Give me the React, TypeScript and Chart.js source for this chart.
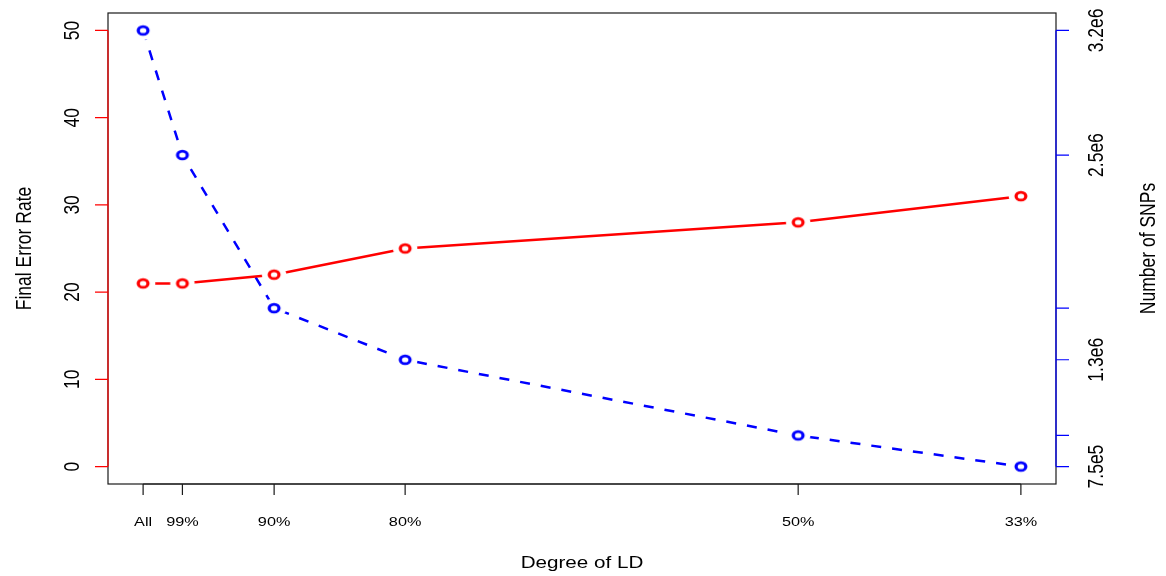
import { useEffect, useRef } from 'react';
import { Chart, registerables } from 'chart.js';

Chart.register(...registerables);

// LD pruning levels shown along the x axis, and where each sits on the numeric axis
const ldLabels = ['All', '99%', '90%', '80%', '50%', '33%'];
const ldPosition = [100, 97, 90, 80, 50, 33];

// Final error rate for each pruning level (left axis)
const errorRate = [21, 21, 22, 25, 28, 31];
const errorTicks = [0, 10, 20, 30, 40, 50];

// Number of SNPs retained at each pruning level (right axis)
const snpCount = [3200000, 2500000, 1640000, 1350000, 925000, 750000];
const snpTickLabels = ['3.2e6', '2.5e6', '', '1.3e6', '', '7.5e5'];

const FONT = '"Liberation Sans", Arial, Helvetica, sans-serif';
const SX = 1.25; // horizontal stretch of glyphs and symbols
const RED = '#ff0000';
const BLUE = '#0000ff';

// R-style 4% range extension
function extend(lo: number, hi: number) {
  const pad = (hi - lo) * 0.04;
  return [lo - pad, hi + pad];
}

function drawText(
  ctx: CanvasRenderingContext2D,
  str: string,
  x: number,
  y: number,
  size: number,
  rotate: boolean,
) {
  ctx.save();
  ctx.translate(x, y);
  ctx.scale(SX, 1);
  if (rotate) ctx.rotate(-Math.PI / 2);
  ctx.font = `${size}px ${FONT}`;
  ctx.textAlign = 'center';
  ctx.textBaseline = 'alphabetic';
  ctx.fillStyle = '#000';
  ctx.fillText(str, 0, 0);
  ctx.restore();
}

// Open circle symbol with a white clearance ring so the line stops short of it
function makeMarker(color: string) {
  const c = document.createElement('canvas');
  c.width = 34;
  c.height = 26;
  const g = c.getContext('2d')!;
  g.translate(17, 13);
  g.scale(SX, 1);
  g.fillStyle = '#ffffff';
  g.beginPath();
  g.arc(0, 0, 9.8, 0, Math.PI * 2);
  g.fill();
  g.strokeStyle = color;
  g.lineWidth = 2.6;
  g.beginPath();
  g.arc(0, 0, 3.9, 0, Math.PI * 2);
  g.stroke();
  return c;
}

const axesPlugin = {
  id: 'rAxes',
  beforeDatasetsDraw(chart: any) {
    const ctx: CanvasRenderingContext2D = chart.ctx;
    const ca = chart.chartArea;
    const xs = chart.scales.x;
    const yl = chart.scales.yErr;
    const yr = chart.scales.ySnp;
    ctx.save();
    ctx.lineCap = 'butt';

    // frame
    ctx.strokeStyle = '#1a1a1a';
    ctx.lineWidth = 1.2;
    ctx.strokeRect(ca.left, ca.top, ca.right - ca.left, ca.bottom - ca.top);

    // bottom axis
    const xFirst = xs.getPixelForValue(ldPosition[0]);
    const xLast = xs.getPixelForValue(ldPosition[ldPosition.length - 1]);
    ctx.beginPath();
    ctx.moveTo(xFirst, ca.bottom);
    ctx.lineTo(xLast, ca.bottom);
    ldPosition.forEach((v) => {
      const px = xs.getPixelForValue(v);
      ctx.moveTo(px, ca.bottom);
      ctx.lineTo(px, ca.bottom + 11);
    });
    ctx.stroke();
    ldPosition.forEach((v, i) => {
      drawText(ctx, ldLabels[i], xs.getPixelForValue(v), 526, 13, false);
    });

    // left axis (error rate)
    ctx.strokeStyle = RED;
    ctx.beginPath();
    ctx.moveTo(ca.left, yl.getPixelForValue(errorTicks[0]));
    ctx.lineTo(ca.left, yl.getPixelForValue(errorTicks[errorTicks.length - 1]));
    errorTicks.forEach((v) => {
      const py = yl.getPixelForValue(v);
      ctx.moveTo(ca.left, py);
      ctx.lineTo(ca.left - 13, py);
    });
    ctx.stroke();
    errorTicks.forEach((v) => {
      drawText(ctx, String(v), ca.left - 29, yl.getPixelForValue(v), 17.5, true);
    });

    // right axis (SNP count)
    const sMax = Math.max(...snpCount);
    const sMin = Math.min(...snpCount);
    ctx.strokeStyle = BLUE;
    ctx.beginPath();
    ctx.moveTo(ca.right, yr.getPixelForValue(sMax));
    ctx.lineTo(ca.right, yr.getPixelForValue(sMin));
    snpCount.forEach((v) => {
      const py = yr.getPixelForValue(v);
      ctx.moveTo(ca.right, py);
      ctx.lineTo(ca.right + 13, py);
    });
    ctx.stroke();
    snpCount.forEach((v, i) => {
      if (snpTickLabels[i]) {
        drawText(ctx, snpTickLabels[i], ca.right + 47, yr.getPixelForValue(v), 17.5, true);
      }
    });

    // axis titles
    const midY = (ca.top + ca.bottom) / 2;
    const midX = (ca.left + ca.right) / 2;
    drawText(ctx, 'Final Error Rate', 30.5, midY, 17.5, true);
    drawText(ctx, 'Number of SNPs', 1155, midY, 17.5, true);
    drawText(ctx, 'Degree of LD', midX, 568, 16.5, false);

    ctx.restore();
  },
};

export default function App() {
  const ref = useRef<HTMLCanvasElement>(null);

  useEffect(() => {
    if (!ref.current) return;
    const [xMin, xMax] = extend(Math.min(...ldPosition), Math.max(...ldPosition));
    const [eMin, eMax] = extend(errorTicks[0], errorTicks[errorTicks.length - 1]);
    const [sMin, sMax] = extend(Math.min(...snpCount), Math.max(...snpCount));

    const chart = new Chart(ref.current, {
      type: 'line',
      data: {
        datasets: [
          {
            label: 'Final Error Rate',
            data: ldPosition.map((x, i) => ({ x, y: errorRate[i] })),
            yAxisID: 'yErr',
            borderColor: RED,
            borderWidth: 2.5,
            pointStyle: makeMarker(RED) as any,
            pointRadius: 6,
            tension: 0,
          },
          {
            label: 'Number of SNPs',
            data: ldPosition.map((x, i) => ({ x, y: snpCount[i] })),
            yAxisID: 'ySnp',
            borderColor: BLUE,
            borderWidth: 2.5,
            borderDash: [10, 11],
            pointStyle: makeMarker(BLUE) as any,
            pointRadius: 6,
            tension: 0,
          },
        ],
      },
      options: {
        responsive: false,
        animation: false,
        events: [],
        layout: { padding: { left: 108, right: 110, top: 13, bottom: 92 } },
        plugins: {
          legend: { display: false },
          tooltip: { enabled: false },
        },
        scales: {
          x: { type: 'linear', display: false, reverse: true, min: xMin, max: xMax },
          yErr: { type: 'linear', display: false, position: 'left', min: eMin, max: eMax },
          ySnp: { type: 'linear', display: false, position: 'right', min: sMin, max: sMax },
        },
      },
      plugins: [axesPlugin],
    });
    return () => chart.destroy();
  }, []);

  return (
    <div style={{ position: 'fixed', left: 0, top: 0, width: 1166, height: 576, background: '#fff' }}>
      <canvas ref={ref} width={1166} height={576} />
    </div>
  );
}
